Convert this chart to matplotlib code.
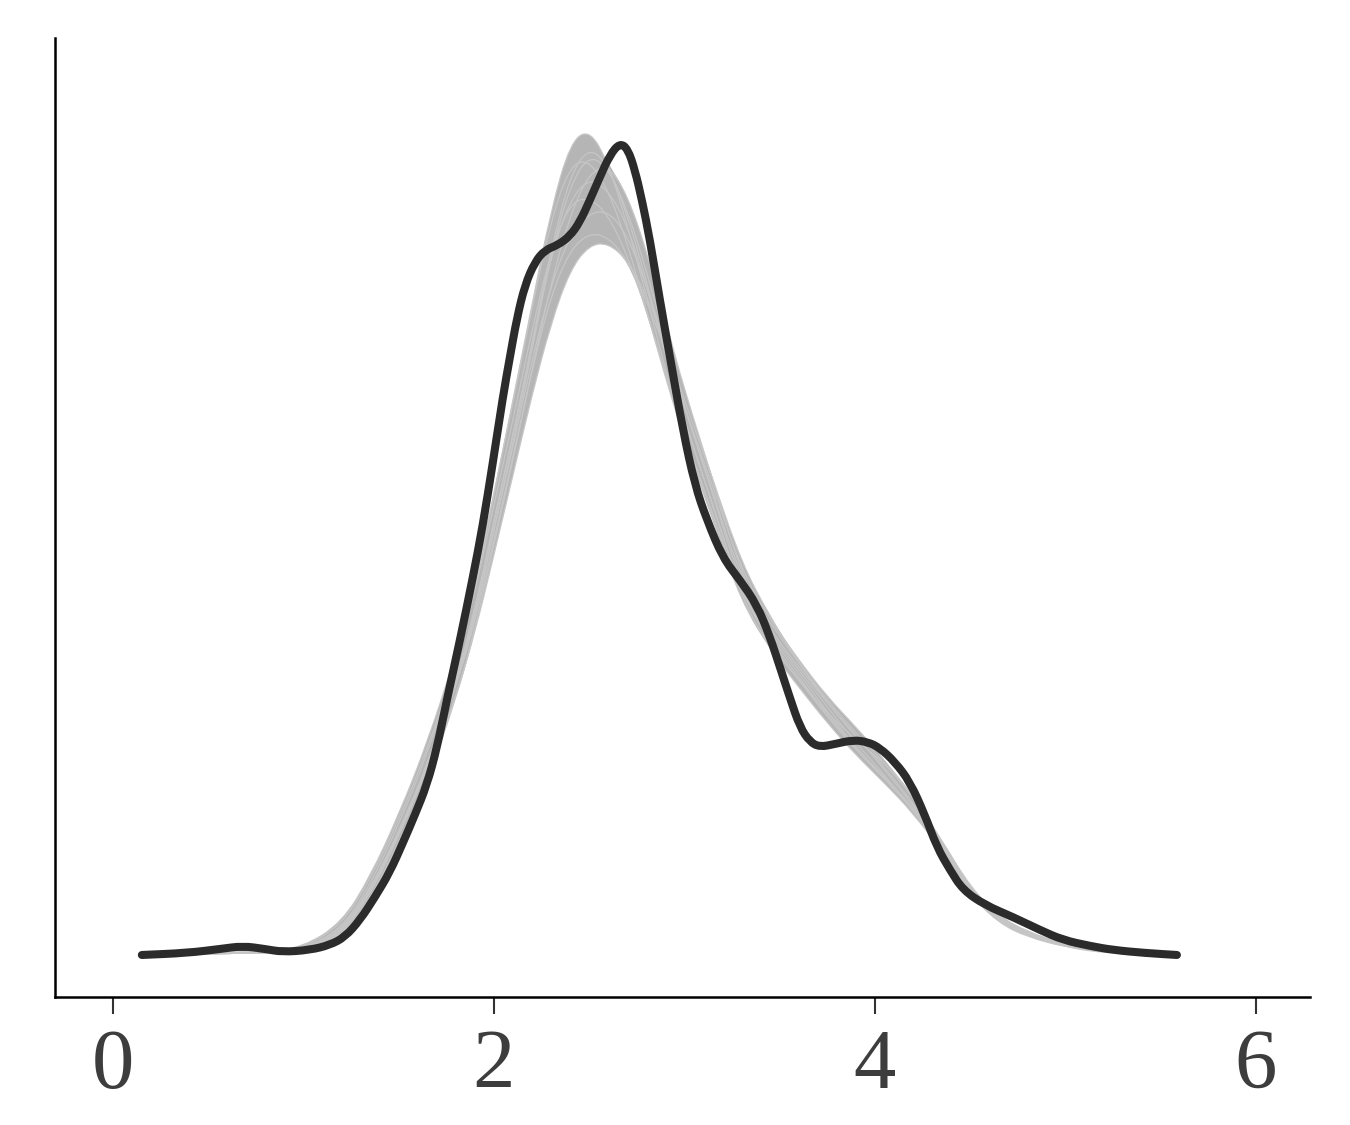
import numpy as np
import matplotlib.pyplot as plt
from matplotlib.path import Path
from matplotlib.patches import PathPatch

Y_X = [0.152, 0.388, 0.563, 0.682, 0.798, 0.892, 1.034, 1.139, 1.218, 1.297,
       1.376, 1.454, 1.522, 1.585, 1.648, 1.701, 1.753, 1.822, 1.890, 1.942,
       1.995, 2.047, 2.084, 2.121, 2.163, 2.215, 2.268, 2.336, 2.399, 2.451,
       2.504, 2.556, 2.609, 2.661, 2.703, 2.740, 2.777, 2.819, 2.871, 2.924,
       2.992, 3.055, 3.118, 3.202, 3.291, 3.381, 3.449, 3.501, 3.554, 3.606,
       3.659, 3.711, 3.790, 3.885, 3.963, 4.026, 4.105, 4.184, 4.262, 4.325,
       4.394, 4.462, 4.577, 4.724, 4.866, 4.987, 5.129, 5.249, 5.417, 5.585]
Y_D = [0.000, 0.002, 0.006, 0.009, 0.006, 0.003, 0.005, 0.010, 0.018, 0.035,
       0.058, 0.083, 0.112, 0.140, 0.170, 0.207, 0.255, 0.315, 0.378, 0.430,
       0.493, 0.558, 0.598, 0.637, 0.670, 0.693, 0.705, 0.710, 0.719, 0.733,
       0.755, 0.778, 0.800, 0.812, 0.806, 0.785, 0.755, 0.715, 0.655, 0.598,
       0.525, 0.470, 0.435, 0.397, 0.375, 0.350, 0.318, 0.288, 0.257, 0.228,
       0.213, 0.208, 0.211, 0.215, 0.213, 0.207, 0.193, 0.173, 0.140, 0.108,
       0.085, 0.065, 0.050, 0.038, 0.025, 0.015, 0.009, 0.005, 0.002, 0.000]

#---Replicated densities (yrep), common grid
REP_X = [0.4, 0.8, 1.0, 1.2, 1.35, 1.5, 1.65, 1.8, 1.9, 2.0, 2.1, 2.2, 2.3, 2.4,
         2.5, 2.6, 2.7, 2.8, 2.9, 3.0, 3.15, 3.3, 3.45, 3.6, 3.75, 3.9, 4.05,
         4.2, 4.35, 4.5, 4.65, 4.8, 5.0, 5.2, 5.5]
REP_A = [.001, .002, .006, .026, .070, .130, .200, .290, .365, .460, .555, .650, .745, .812, .826, .792, .730, .660,
         .585, .520, .440, .360, .318, .282, .243, .208, .176, .145, .106, .060, .033, .019, .008, .003, .000]
REP_B = [.001, .002, .004, .020, .060, .118, .185, .268, .335, .425, .512, .605, .700, .770, .800, .787, .745, .685,
         .615, .548, .460, .368, .322, .285, .248, .212, .180, .146, .108, .062, .036, .021, .009, .003, .000]
REP_C = [.001, .002, .004, .018, .055, .110, .175, .255, .325, .410, .495, .585, .672, .740, .782, .790, .760, .705,
         .635, .565, .475, .380, .325, .288, .252, .218, .188, .152, .112, .066, .038, .022, .010, .003, .000]
REP_D = [.001, .002, .005, .023, .065, .123, .190, .275, .345, .435, .520, .610, .700, .755, .777, .765, .730, .670,
         .600, .535, .450, .362, .315, .278, .240, .207, .178, .148, .110, .063, .035, .020, .009, .003, .000]
REP_E = [.002, .003, .007, .030, .075, .135, .205, .292, .362, .450, .535, .625, .705, .752, .758, .740, .700, .645,
         .582, .520, .440, .358, .305, .268, .232, .200, .172, .142, .104, .060, .034, .020, .009, .003, .000]
REP_F = [.001, .002, .005, .022, .062, .120, .186, .270, .338, .425, .508, .595, .670, .720, .742, .744, .720, .670,
         .610, .548, .462, .375, .332, .292, .252, .220, .185, .150, .110, .064, .036, .021, .009, .003, .000]
REP_G = [.002, .003, .006, .025, .066, .122, .188, .268, .332, .415, .498, .585, .660, .705, .722, .718, .695, .655,
         .605, .548, .468, .385, .335, .295, .258, .228, .195, .158, .115, .066, .037, .021, .010, .003, .000]
REP_H = [.001, .002, .004, .019, .056, .112, .178, .258, .322, .400, .480, .560, .632, .685, .710, .712, .695, .660,
         .612, .555, .475, .392, .338, .292, .255, .222, .192, .158, .115, .068, .039, .023, .011, .004, .000]
REP_I = [.002, .003, .008, .032, .078, .140, .212, .300, .372, .462, .552, .648, .735, .790, .795, .765, .712, .645,
         .578, .515, .435, .352, .310, .275, .242, .215, .192, .160, .112, .060, .032, .018, .008, .002, .000]
REP_J = [.001, .002, .005, .021, .062, .120, .188, .272, .342, .432, .520, .612, .705, .780, .808, .790, .740, .675,
         .602, .535, .448, .362, .312, .275, .238, .205, .176, .146, .108, .062, .035, .020, .009, .003, .000]
REPS = [REP_A, REP_B, REP_C, REP_D, REP_E, REP_F, REP_G, REP_H, REP_I, REP_J]

XTICKS = [0, 2, 4, 6]


def smooth_path(x, y):
    # quadratic bezier through the midpoints, points used as control points
    pts = np.column_stack([x, y])
    verts = [pts[0], (pts[0] + pts[1]) / 2]
    codes = [Path.MOVETO, Path.LINETO]
    for i in range(1, len(pts) - 1):
        verts += [pts[i], (pts[i] + pts[i + 1]) / 2]
        codes += [Path.CURVE3, Path.CURVE3]
    verts.append(pts[-1])
    codes.append(Path.LINETO)
    return verts, codes


#---Plot
fig = plt.figure(figsize=(13.5, 11.25), dpi=100)
ax = fig.add_axes([0.0407, 0.1138, 0.9296, 0.8524])

reps = np.array(REPS)
up_v, up_c = smooth_path(REP_X, reps.max(axis=0))
lo_v, lo_c = smooth_path(REP_X[::-1], reps.min(axis=0)[::-1])
lo_c[0] = Path.LINETO
band = Path(up_v + lo_v + [up_v[0]], up_c + lo_c + [Path.CLOSEPOLY])
ax.add_patch(PathPatch(band, facecolor='#b5b5b5', edgecolor='none'))

for r in REPS:
    v, c = smooth_path(REP_X, r)
    ax.add_patch(PathPatch(Path(v, c), facecolor='none', edgecolor='#c6c6c6', lw=0.9))

v, c = smooth_path(Y_X, Y_D)
ax.add_patch(PathPatch(Path(v, c), facecolor='none', edgecolor='#2b2b2b', lw=5.8,
                       capstyle='round', joinstyle='round'))

ax.set_xlim(-0.304, 6.283)
ax.set_ylim(-0.042, 0.917)
ax.set_yticks([])
ax.set_xticks(XTICKS)
ax.set_xticklabels([str(t) for t in XTICKS], family='Liberation Serif', fontsize=61, color='#3d3d3d')
ax.tick_params(axis='x', length=12, width=1.5, color='#333333', pad=11)
for s in ['top', 'right']:
    ax.spines[s].set_visible(False)
for s in ['left', 'bottom']:
    ax.spines[s].set_linewidth(1.8)
    ax.spines[s].set_color('black')

plt.savefig('out.png', dpi=100)
